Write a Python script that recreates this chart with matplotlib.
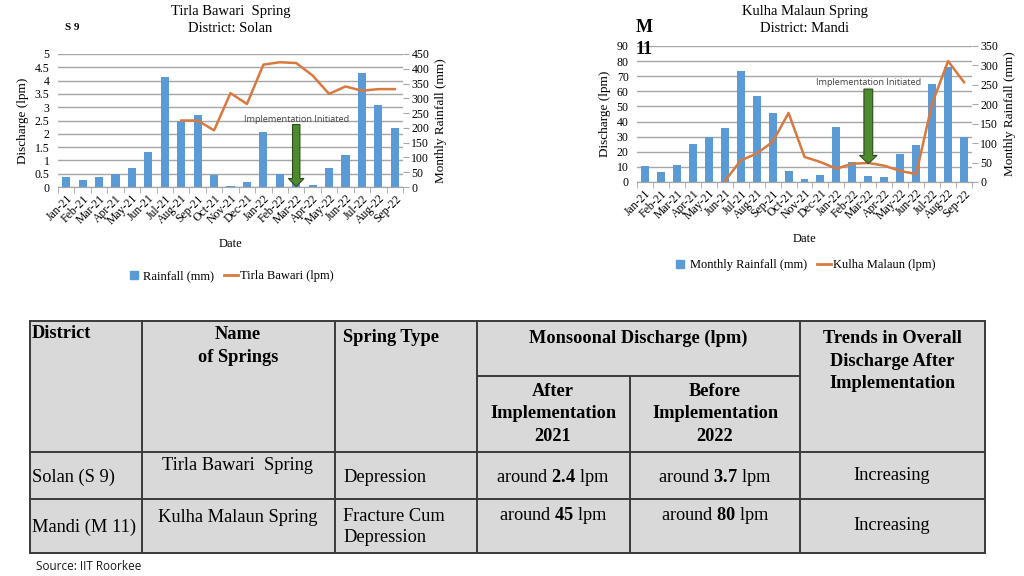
import numpy as np
import matplotlib
matplotlib.use('Agg')
import matplotlib.pyplot as plt
from matplotlib.lines import Line2D
from matplotlib.patches import FancyArrow, Rectangle

plt.rcParams['font.family'] = 'Liberation Serif'
plt.rcParams['mathtext.fontset'] = 'custom'
plt.rcParams['mathtext.rm'] = 'Liberation Serif'
plt.rcParams['mathtext.bf'] = 'Liberation Serif:bold'

W, H = 1024, 576

# ---- data ----
months = ['Jan-21', 'Feb-21', 'Mar-21', 'Apr-21', 'May-21', 'Jun-21', 'Jul-21',
          'Aug-21', 'Sep-21', 'Oct-21', 'Nov-21', 'Dec-21', 'Jan-22', 'Feb-22',
          'Mar-22', 'Apr-22', 'May-22', 'Jun-22', 'Jul-22', 'Aug-22', 'Sep-22']

solan_rain = [33, 23, 33, 45, 65, 117, 371, 223, 243, 40, 5, 18, 187, 45,
              22, 7, 65, 108, 387, 279, 201]
solan_discharge = [np.nan] * 7 + [2.5, 2.5, 2.13, 3.53, 3.12, 4.6, 4.69, 4.66,
                                  4.19, 3.5, 3.78, 3.62, 3.68, 3.68]

mandi_rain = [41, 26, 45, 97, 116, 138, 286, 222, 177, 28, 7, 19, 142, 51,
              15, 12, 73, 95, 252, 296, 117]
mandi_discharge = [np.nan] * 5 + [0.4, 14.3, 18.8, 26.5, 45.7, 16.6, 13.2, 8.8,
                                  12.1, 12.6, 10.8, 7.3, 5.3, 51.9, 80, 66]

impl_month = 'Mar-22'

BLUE = '#5b9bd5'
ORANGE = '#d9793f'
GREEN = '#4e8a2f'
GRID = '#a6a6a6'


def rect(x0, y0, x1, y1):
    return [x0 / W, 1 - y1 / H, (x1 - x0) / W, (y1 - y0) / H]


fig = plt.figure(figsize=(W / 100, H / 100), dpi=100)

title_district = {'Tirla Bawari  Spring': 'District: Solan',
                  'Kulha Malaun Spring': 'District: Mandi'}


def spring_chart(box, rain, discharge, dmax, dstep, rmax, rstep, title,
                 rain_label, line_label, arrow_top, arrow_tip, arrow_w, head_w,
                 head_len, text_y, legend_y, date_y):
    x = np.arange(len(months))
    ax = fig.add_axes(rect(*box))
    ax2 = ax.twinx()
    ax3 = fig.add_axes(rect(*box), sharex=ax, sharey=ax)
    ax3.axis('off')
    ax3.patch.set_visible(False)

    ticks = np.arange(0, dmax + dstep / 2, dstep)
    ax.set_ylim(0, dmax)
    ax.set_yticks(ticks)
    ax.set_yticklabels([f'{v:g}' for v in ticks])
    ax.grid(axis='y', color=GRID, linewidth=1.0)
    ax.set_axisbelow(True)
    ax.tick_params(axis='y', length=0, labelsize=8.5, pad=6)

    ax2.bar(x, rain, width=0.5, color=BLUE, zorder=2)
    ax2.set_ylim(0, rmax)
    ax2.set_yticks(np.arange(0, rmax + 1, rstep))
    ax2.tick_params(axis='y', length=4, color=GRID, labelsize=8.5, pad=2)

    ax3.plot(x, discharge, color=ORANGE, linewidth=1.8, zorder=3)
    i = months.index(impl_month)
    ax3.add_patch(FancyArrow(i, arrow_top, 0, arrow_tip - arrow_top, width=arrow_w,
                             head_width=head_w, head_length=head_len,
                             length_includes_head=True, facecolor=GREEN,
                             edgecolor='#2e4d1c', linewidth=0.8, zorder=4))
    ax3.text(i, text_y, 'Implementation Initiated', family='Open Sans',
             fontsize=6.6, color='#404040', ha='center', va='bottom', zorder=5)

    ax.set_xlim(-0.5, len(months) - 0.5)
    ax.set_xticks(x)
    ax.set_xticklabels(months, rotation=45, ha='right', rotation_mode='anchor',
                       fontsize=8.5)
    ax.set_xticks(np.arange(-0.5, len(months)), minor=True)
    ax.tick_params(axis='x', which='major', length=0, pad=4)
    ax.tick_params(axis='x', which='minor', length=4, color=GRID)
    for a in (ax, ax2):
        for s in ('top', 'left', 'right'):
            a.spines[s].set_visible(False)
        a.spines['bottom'].set_color(GRID)

    ax.set_ylabel('Discharge (lpm)', fontsize=9.5, labelpad=4)
    ax2.set_ylabel('Monthly Rainfall (mm)', fontsize=9.5, labelpad=4)

    cx = (box[0] + box[2]) / 2
    fig.text(cx / W, 1 - 11 / H, title, ha='center', va='center', fontsize=10.5)
    fig.text(cx / W, 1 - 28 / H, title_district[title], ha='center', va='center',
             fontsize=10.5)
    fig.text(cx / W, 1 - date_y / H, 'Date', ha='center', va='center', fontsize=9)

    handles = [Line2D([], [], marker='s', color=BLUE, linestyle='none', markersize=6),
               Line2D([], [], color=ORANGE, linewidth=2)]
    fig.legend(handles, [rain_label, line_label], loc='center',
               bbox_to_anchor=(cx / W, 1 - legend_y / H), ncol=2, frameon=False,
               fontsize=9, handlelength=1.1, handletextpad=0.2, columnspacing=0.8)
    return ax


spring_chart((58, 54, 403, 187), solan_rain, solan_discharge, 5, 0.5, 450, 50,
             'Tirla Bawari  Spring', 'Rainfall (mm)', 'Tirla Bawari (lpm)',
             arrow_top=2.35, arrow_tip=0.02, arrow_w=0.45, head_w=0.95,
             head_len=0.3, text_y=2.35, legend_y=276, date_y=244)
fig.text(65 / W, 1 - 28 / H, 'S 9', fontsize=8, fontweight='bold', va='center')

spring_chart((637, 46, 972, 182), mandi_rain, mandi_discharge, 90, 10, 350, 50,
             'Kulha Malaun Spring', 'Monthly Rainfall (mm)',
             'Kulha Malaun (lpm)', arrow_top=61.5, arrow_tip=12.1, arrow_w=0.55,
             head_w=1.1, head_len=5.5, text_y=63, legend_y=265, date_y=239)
fig.text(636 / W, 1 - 27 / H, 'M', fontsize=13, fontweight='bold', va='center')
fig.text(636 / W, 1 - 50 / H, '11', fontsize=13, fontweight='bold', va='center')

# ---- table ----
axT = fig.add_axes([0, 0, 1, 1])
axT.set_xlim(0, W)
axT.set_ylim(H, 0)
axT.axis('off')
axT.patch.set_visible(False)

LC = '#3a3a3a'
axT.add_patch(Rectangle((30, 321), 955, 232, facecolor='#d9d9d9', edgecolor='none'))
for yy in (321, 452, 499, 553):
    axT.plot([30, 985], [yy, yy], color=LC, lw=1.4)
axT.plot([477, 800], [376, 376], color=LC, lw=1.4)
for xx in (30, 142, 335, 477, 800, 985):
    axT.plot([xx, xx], [321, 553], color=LC, lw=1.4)
axT.plot([630, 630], [376, 553], color=LC, lw=1.4)

fs = 13.2
LS = 1.45
hdr = dict(fontsize=fs, fontweight='bold', va='center')
axT.text(32, 334, 'District', ha='left', **hdr)
axT.text(238, 346, 'Name\nof Springs', ha='center', linespacing=LS, **hdr)
axT.text(343, 338, 'Spring Type', ha='left', **hdr)
axT.text(638, 338, 'Monsoonal Discharge (lpm)', ha='center', **hdr)
axT.text(553, 414, 'After\nImplementation\n2021', ha='center', linespacing=LS, **hdr)
axT.text(715, 414, 'Before\nImplementation\n2022', ha='center', linespacing=LS, **hdr)
axT.text(892, 361, 'Trends in Overall\nDischarge After\nImplementation', ha='center',
         linespacing=LS, **hdr)

body = dict(fontsize=fs, va='center')
districts = ['Solan (S 9)', 'Mandi (M 11)']
springs = ['Tirla Bawari  Spring', 'Kulha Malaun Spring']
types = ['Depression', 'Fracture Cum\nDepression']
after_vals = ['2.4', '45']
before_vals = ['3.7', '80']
trends = ['Increasing', 'Increasing']

axT.text(32, 477, districts[0], ha='left', **body)
axT.text(32, 527, districts[1], ha='left', **body)
axT.text(238, 465, springs[0], ha='center', **body)
axT.text(238, 518, springs[1], ha='center', **body)
axT.text(343, 477, types[0], ha='left', **body)
axT.text(343, 527, types[1], ha='left', linespacing=1.35, **body)
axT.text(553, 477, r'around $\mathbf{' + after_vals[0] + '}$ lpm', ha='center', **body)
axT.text(715, 477, r'around $\mathbf{' + before_vals[0] + '}$ lpm', ha='center', **body)
axT.text(553, 515, r'around $\mathbf{' + after_vals[1] + '}$ lpm', ha='center', **body)
axT.text(715, 515, r'around $\mathbf{' + before_vals[1] + '}$ lpm', ha='center', **body)
axT.text(892, 476, trends[0], ha='center', **body)
axT.text(892, 526, trends[1], ha='center', **body)

axT.text(36, 566, 'Source: IIT Roorkee', family='Open Sans', fontsize=8.5,
         ha='left', va='center', color='#1a1a1a')

fig.savefig('out.png', dpi=100)
